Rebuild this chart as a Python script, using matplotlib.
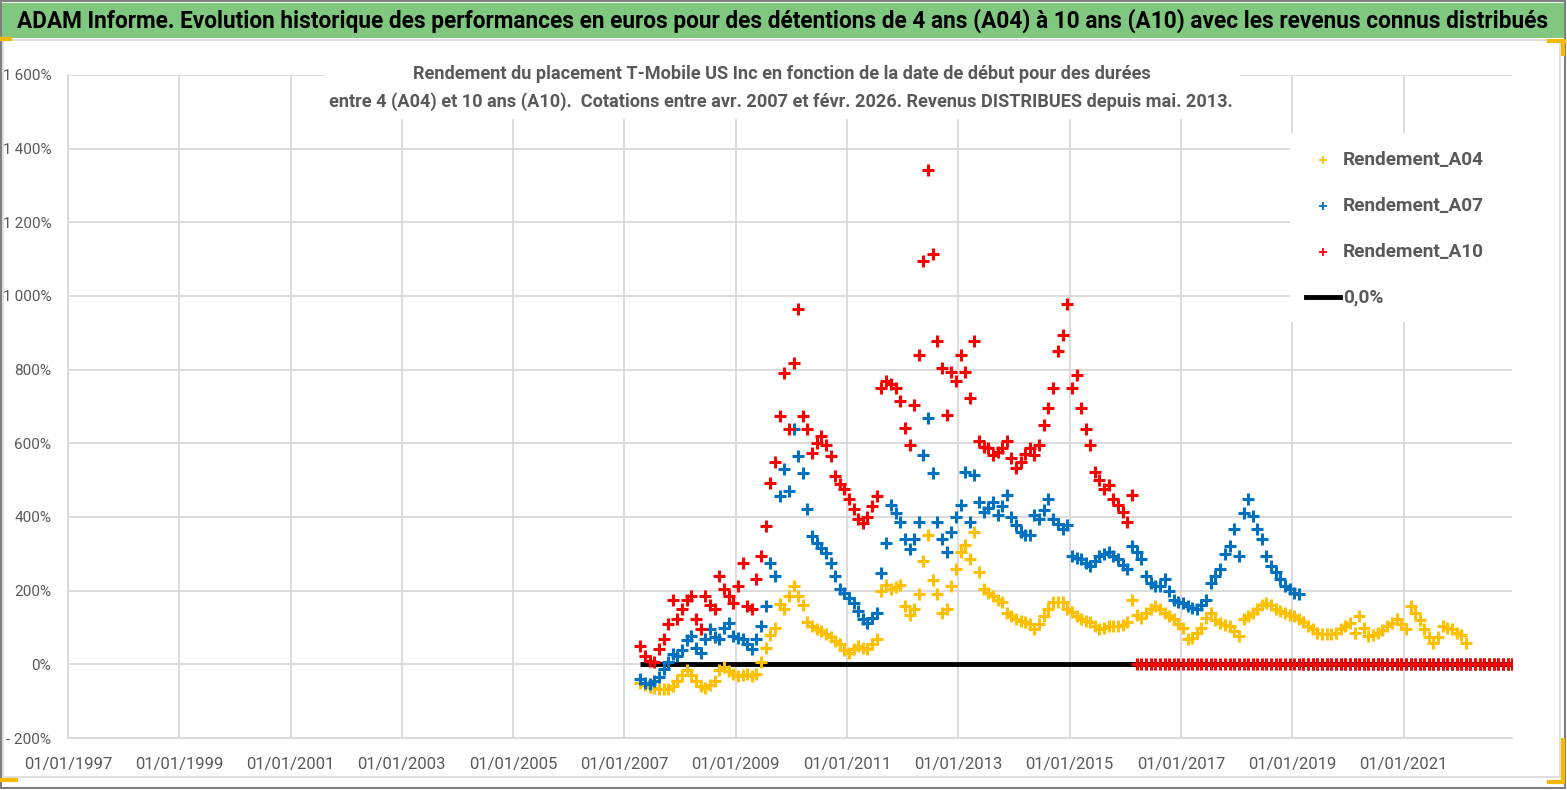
import matplotlib
matplotlib.use("Agg")
import matplotlib.pyplot as plt
import matplotlib.dates as mdates
from matplotlib import font_manager
from matplotlib.patches import Rectangle
from matplotlib.lines import Line2D
import pandas as pd
import numpy as np

# ---- donnees (valeurs mensuelles, en %) ----
first_month = "2007-04-01"
last_month = "2022-12-01"

rendement_a04 = [
    -50, -55, -62, -65, -66, -68, -66, -59, -45,
    -30, -15, -28, -45, -60, -65, -55, -45, -15, -8, -18, -25,
    -32, -28, -25, -33, -25, 5, 45, 80, 100, 165, 150, 185,
    213, 185, 160, 115, 105, 95, 90, 82, 75, 62, 55, 40,
    32, 42, 50, 45, 42, 55, 68, 200, 215, 205, 210, 215,
    159, 135, 150, 190, 280, 350, 230, 190, 140, 150, 214, 260,
    305, 323, 286, 359, 250, 205, 195, 186, 175, 168, 140, 130,
    123, 118, 114, 110, 95, 110, 132, 150, 168, 170, 168, 150,
    141, 130, 123, 118, 114, 105, 95, 100, 105, 105, 105, 108,
    114, 175, 135, 125, 140, 150, 158, 150, 140, 130, 122, 110,
    100, 68, 72, 86, 100, 125, 140, 120, 113, 108, 104, 90,
    77, 122, 130, 140, 149, 160, 167, 160, 149, 145, 140, 135,
    130, 122, 115, 104, 95, 86, 83, 81, 82, 86, 95, 105,
    113, 86, 131, 100, 77, 80, 86, 92, 104, 112, 122, 110,
    95, 158, 140, 120, 95, 75, 59, 75, 104, 100, 95, 85,
    80, 59,
]

rendement_a07 = [
    -41, -50, -54, -45, -35, -14, 5, 27, 23,
    40, 65, 77, 45, 32, 70, 95, 75, 68, 100, 113, 77,
    72, 68, 55, 41, 68, 104, 158, 276, 240, 457, 530, 470,
    638, 566, 520, 421, 348, 330, 315, 303, 276, 240, 204, 195,
    180, 167, 145, 122, 113, 125, 140, 249, 330, 432, 410, 386,
    341, 314, 340, 386, 568, 668, 520, 386, 341, 305, 359, 400,
    432, 523, 386, 514, 441, 414, 425, 441, 405, 430, 459, 400,
    377, 359, 350, 350, 405, 395, 420, 450, 395, 380, 368, 377,
    295, 290, 286, 275, 268, 280, 295, 300, 305, 295, 286, 270,
    258, 321, 305, 285, 240, 220, 213, 213, 231, 200, 176, 170,
    167, 158, 152, 149, 160, 176, 222, 240, 258, 300, 321, 367,
    294, 412, 448, 403, 367, 340, 294, 267, 250, 231, 213, 205,
    195, 190,
]

rendement_a10 = [
    50, 23, 10, 5, 41, 68, 110, 176, 122,
    150, 175, 186, 122, 95, 186, 160, 149, 240, 204, 185, 167,
    213, 276, 158, 149, 231, 294, 376, 493, 548, 674, 792, 640,
    819, 964, 674, 638, 575, 602, 620, 595, 566, 511, 490, 475,
    450, 421, 394, 385, 400, 430, 457, 750, 768, 760, 750, 714,
    641, 595, 705, 841, 1095, 1341, 1114, 877, 805, 677, 795, 768,
    841, 795, 723, 877, 605, 590, 586, 568, 576, 586, 605, 560,
    532, 550, 570, 586, 568, 595, 650, 695, 750, 850, 895, 977,
    750, 786, 695, 640, 595, 523, 500, 477, 486, 450, 432, 414,
    386, 459,
]

y_ticks = [-200, 0, 200, 400, 600, 800, 1000, 1200, 1400, 1600]
y_labels = ["- 200%", "0%", "200%", "400%", "600%", "800%",
            "1\u2009000%", "1\u2009200%", "1\u2009400%", "1\u2009600%"]
x_tick_years = list(range(1997, 2022, 2))

titre = ("ADAM Informe. Evolution historique des performances en euros pour des "
         "détentions de 4 ans (A04) à 10 ans (A10) avec les revenus connus distribués")
sous_titre_1 = ("Rendement du placement T-Mobile US Inc en fonction de la date de début "
                "pour des durées")
sous_titre_2 = ("entre 4 (A04) et 10 ans (A10).  Cotations entre avr. 2007 et févr. 2026. "
                "Revenus DISTRIBUES depuis mai. 2013.")

# ---- preparation ----
dates = pd.date_range(first_month, last_month, freq="MS") + pd.Timedelta(days=14)
n = len(dates)
# apres la fin de chaque serie, la valeur affichee est 0
s04 = rendement_a04 + [0] * (n - len(rendement_a04))
s07 = rendement_a07 + [0] * (n - len(rendement_a07))
s10 = rendement_a10 + [0] * (n - len(rendement_a10))

installed = {f.name for f in font_manager.fontManager.ttflist}
FONT = "Liberation Sans Narrow" if "Liberation Sans Narrow" in installed else "Roboto"
plt.rcParams["font.family"] = [FONT, "DejaVu Sans"]

W, H = 1567, 790
fig = plt.figure(figsize=(W / 100, H / 100), dpi=100)

def fx(px):
    return px / W

def fy(py):
    return 1 - py / H

# cadre exterieur, bandeau vert
fig.patches.append(Rectangle((fx(1), fy(788)), fx(1564), 787 / H, transform=fig.transFigure,
                             fill=False, edgecolor="#808080", lw=1.5, zorder=0))
fig.patches.append(Rectangle((fx(2), fy(38)), fx(1562), 35 / H, transform=fig.transFigure,
                             facecolor="#80C77F", edgecolor="none", zorder=1))
fig.patches.append(Rectangle((fx(3), fy(777)), fx(1557), 737 / H, transform=fig.transFigure,
                             fill=False, edgecolor="#D9D9D9", lw=1.2, zorder=1))
# petits coins jaunes
orange = "#F5B800"
for xs, ys in [([1549, 1564], [41, 41]), ([1563, 1563], [41, 54]),
               ([1549, 1563], [782, 782]), ([1563, 1563], [740, 782]),
               ([2, 16], [780, 780]), ([2, 10], [39, 39])]:
    fig.add_artist(Line2D([fx(v) for v in xs], [fy(v) for v in ys],
                          color=orange, lw=3, transform=fig.transFigure))

ax = fig.add_axes([fx(68), fy(738), fx(1512 - 68), (738 - 75) / H])
ax.set_xlim(pd.Timestamp("1997-01-01"), pd.Timestamp("2022-12-13"))
ax.set_ylim(-200, 1600)

ax.set_yticks(y_ticks)
ax.set_yticklabels(y_labels)
ax.set_xticks([pd.Timestamp(f"{y}-01-01") for y in x_tick_years])
ax.xaxis.set_major_formatter(mdates.DateFormatter("%d/%m/%Y"))
ax.tick_params(axis="both", length=0, colors="#595959", labelsize=11)
ax.tick_params(axis="x", pad=14, labelsize=12)
ax.tick_params(axis="y", pad=12)
ax.grid(True, color="#D9D9D9", lw=1.3)
ax.set_axisbelow(True)
for side in ["top", "right"]:
    ax.spines[side].set_visible(False)
for side in ["left", "bottom"]:
    ax.spines[side].set_color("#D9D9D9")
    ax.spines[side].set_linewidth(1.3)

ax.plot([dates[0], dates[-1]], [0, 0], color="black", lw=3.5, zorder=2,
        solid_capstyle="butt")
mk = dict(marker="+", linestyle="none", markersize=9, markeredgewidth=2.2, zorder=3)
ax.plot(dates, s04, color="#FFC000", **mk)
ax.plot(dates, s07, color="#0070C0", **mk)
ax.plot(dates, s10, color="#FF0000", **mk)

# sous-titre sur fond blanc
fig.patches.append(Rectangle((fx(325), fy(119)), fx(1240 - 325), 60 / H,
                             transform=fig.transFigure, facecolor="white",
                             edgecolor="none", zorder=5))
t1 = fig.text(fx(782), fy(74), sous_titre_1, ha="center", va="center",
              fontsize=13, fontweight="bold", color="#595959", zorder=6)
t2 = fig.text(fx(781), fy(102), sous_titre_2, ha="center", va="center",
              fontsize=13, fontweight="bold", color="#595959", zorder=6)
tt = fig.text(fx(783), fy(21), titre, ha="center", va="center",
              fontsize=16, fontweight="bold", color="black", zorder=6)

# legende
fig.patches.append(Rectangle((fx(1290), fy(322)), fx(1512 - 1290), (322 - 133) / H,
                             transform=fig.transFigure, facecolor="white",
                             edgecolor="none", zorder=5))
leg_items = [("Rendement_A04", "#FFC000"), ("Rendement_A07", "#0070C0"),
             ("Rendement_A10", "#FF0000")]
leg_texts = []
for i, (lab, col) in enumerate(leg_items):
    yy = 160 + i * 46
    fig.add_artist(Line2D([fx(1323)], [fy(yy)], marker="+", color=col, markersize=6,
                          markeredgewidth=1.3, transform=fig.transFigure, zorder=6))
    leg_texts.append(fig.text(fx(1343), fy(yy), lab, ha="left", va="center",
                              fontsize=13, fontweight="bold", color="#595959", zorder=6))
fig.add_artist(Line2D([fx(1306), fx(1340)], [fy(297), fy(297)], color="black", lw=3.5,
                      transform=fig.transFigure, zorder=6))
leg_texts.append(fig.text(fx(1343), fy(297), "0,0%", ha="left", va="center",
                          fontsize=13, fontweight="bold", color="#595959", zorder=6))

# ajuste la taille des textes a la largeur de la reference
renderer = fig.canvas.get_renderer()
for txt, width in [(tt, 1530), (t2, 902), (leg_texts[0], 141)]:
    w = txt.get_window_extent(renderer).width
    txt.set_fontsize(txt.get_fontsize() * width / w)
t1.set_fontsize(t2.get_fontsize())
for txt in leg_texts[1:]:
    txt.set_fontsize(leg_texts[0].get_fontsize())

fig.savefig("out.png", dpi=100)
